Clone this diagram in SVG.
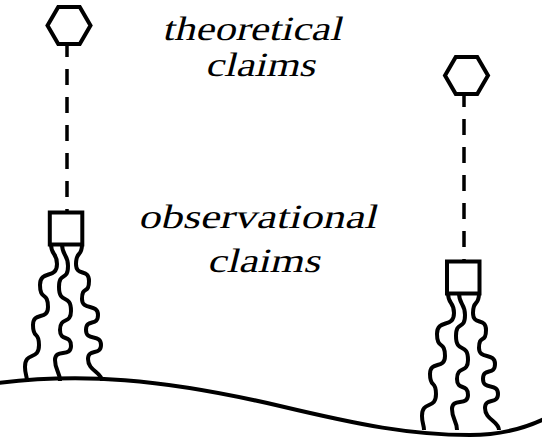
<svg xmlns="http://www.w3.org/2000/svg" width="542" height="440" viewBox="0 0 542 440">
<style>
.n{fill:#fff;stroke:#000;stroke-width:4;stroke-linejoin:miter}
.d{stroke:#000;stroke-width:3.5;stroke-dasharray:16 12;fill:none}
.w{stroke:#000;stroke-width:4;fill:none;stroke-linecap:butt}
.g{stroke:#000;stroke-width:4;fill:none}
</style>
<defs>
<g id="roots">
<path class="w" d="M51,244 C51,256 57,252 57,264 C57,280 40,269 40,285 C40,301 48,291 48,307 C48,321 33,311 33,325 C33,340 39,330 39,345 C39,361 25,351 25,367 C25,374 27,376 27,381"/>
<path class="w" d="M62,244 C62,256 68,254 68,266 C68,282 59,271 59,287 C59,305 71,293 71,311 C71,325 60,316 60,330 C60,342 71,334 71,346 C71,358 55,348 55,360 C55,370 60,372 60,381"/>
<path class="w" d="M82,244 C82,258 76,250 76,264 C76,277 89,268 89,281 C89,295 82,285 82,299 C82,311 98,303 98,315 C98,327 86,318 86,330 C86,342 101,333 101,345 C101,356 88,348 88,359 C88,371 102,372 102,381"/>
</g>
</defs>
<g id="ground">
<path class="g" d="M-2,383 C80,373 160,378 280,406 C360,425 410,435 470,435 C500,435 525,428 544,419"/>
</g>
<g id="connectors">
<line class="d" x1="67" y1="41" x2="67" y2="213"/>
<line class="d" x1="464" y1="91" x2="464" y2="261"/>
<use href="#roots"/>
<use href="#roots" transform="translate(397,49)"/>
</g>
<g id="theory-left"><polygon class="n" points="47.5,25.5 58.25,6.9 79.75,6.9 90.5,25.5 79.75,44.1 58.25,44.1"/></g>
<g id="observation-left"><rect class="n" x="49.8" y="212.5" width="32.5" height="32"/></g>
<g id="theory-right"><polygon class="n" points="445,75.5 455.75,56.9 477.25,56.9 488,75.5 477.25,94.1 455.75,94.1"/></g>
<g id="observation-right"><rect class="n" x="447" y="261.5" width="32.5" height="32"/></g>
<g id="labels" fill="#000">
<text font-family="Liberation Serif" font-size="34" transform="translate(162,40) skewX(-14) scale(1.25,1)">theoretical</text>
<text font-family="Liberation Serif" font-size="34" transform="translate(205,76) skewX(-14) scale(1.24,1)">claims</text>
<text font-family="Liberation Serif" font-size="34" transform="translate(138,228) skewX(-14) scale(1.3,1)">observational</text>
<text font-family="Liberation Serif" font-size="34" transform="translate(207,272) skewX(-14) scale(1.27,1)">claims</text>
</g>
</svg>
